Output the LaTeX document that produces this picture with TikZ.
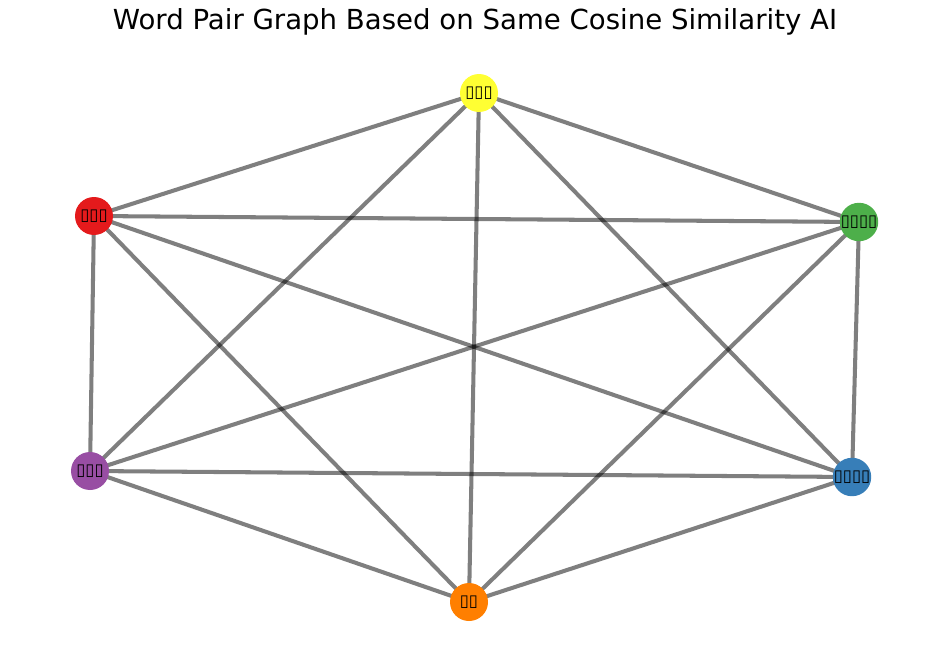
\documentclass[tikz,border=0pt]{standalone}
\usepackage{fontspec}
\setmainfont{DejaVu Sans}
\usepackage{tikz}
\usetikzlibrary{backgrounds}
\definecolor{wordred}{HTML}{E41A1C}
\definecolor{wordblue}{HTML}{377EB8}
\definecolor{wordgreen}{HTML}{4DAF4A}
\definecolor{wordpurple}{HTML}{984EA3}
\definecolor{wordorange}{HTML}{FF7F00}
\definecolor{wordyellow}{HTML}{FFFF33}

\begin{document}
\begin{tikzpicture}[
    x=0.02cm, y=-0.02cm,
    word/.style={circle, minimum size=0.76cm, inner sep=0pt, font=\fontsize{9.4}{10}\selectfont},
    pairedge/.style={line width=2.3pt, draw=black, draw opacity=0.5}
]
    \useasboundingbox (0,0) rectangle (950,666);

    % Title
    \node[font=\fontsize{15.7}{18}\selectfont] (title) at (475,22) {Word Pair Graph Based on Same Cosine Similarity AI};

    % Words
    \node[word, fill=wordyellow] (wyellow) at (479,93) {▯▯▯};
    \node[word, fill=wordred] (wred) at (94,216) {▯▯▯};
    \node[word, fill=wordgreen] (wgreen) at (859,222) {▯▯▯▯};
    \node[word, fill=wordpurple] (wpurple) at (90,471) {▯▯▯};
    \node[word, fill=wordblue] (wblue) at (852,477) {▯▯▯▯};
    \node[word, fill=wordorange] (worange) at (469,602) {▯▯};

    % Pairs
    \begin{scope}[on background layer]
        \foreach \a/\b in {wyellow/wred, wyellow/wgreen, wyellow/wpurple, wyellow/wblue, wyellow/worange,
                           wred/wgreen, wred/wpurple, wred/wblue, wred/worange,
                           wgreen/wpurple, wgreen/wblue, wgreen/worange,
                           wpurple/wblue, wpurple/worange,
                           wblue/worange}
            \draw[pairedge] (\a.center) -- (\b.center);
    \end{scope}
\end{tikzpicture}
\end{document}
